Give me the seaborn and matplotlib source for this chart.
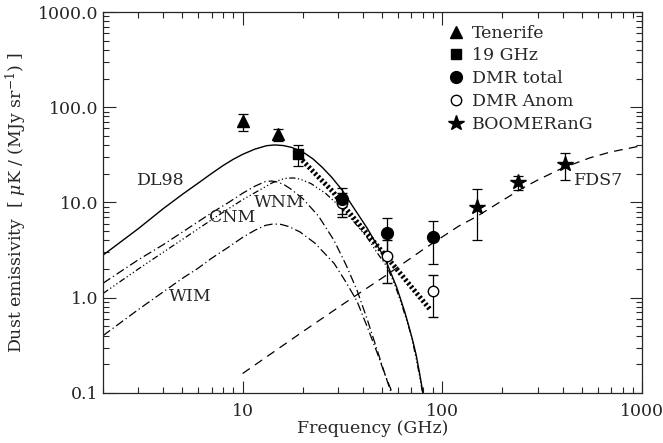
import numpy as np
import pandas as pd
import matplotlib
matplotlib.use("Agg")
import matplotlib.pyplot as plt
from matplotlib.lines import Line2D
from matplotlib.ticker import FixedLocator, FixedFormatter, NullFormatter
import seaborn as sns

# --- measured points (GHz, emissivity, error) ---
ten_f = [10.0, 15.0]
ten_v = [71.0, 52.0]
ten_e = [14.0, 7.7]

k19_f = [19.0]
k19_v = [32.0]
k19_e = [8.0]

dmr_f = [31.5, 53.0, 90.0]
dmr_tot = [10.8, 4.75, 4.37]
dmr_tot_e = [3.3, 2.2, 2.1]
dmr_anom = [9.9, 2.74, 1.19]
dmr_anom_e = [2.8, 1.3, 0.56]

boom_f = [150.0, 240.0, 410.0]
boom_v = [9.0, 16.3, 25.4]
boom_e = [5.0, 2.9, 8.0]

# --- model curves ---
dl98_f = [2, 3, 4, 5, 6, 7, 8, 9, 10, 11.5, 13.2, 14.5, 16, 17.5, 19, 20.5, 22.5,
          25, 28, 31.5, 36, 42, 47, 50, 53, 56, 59, 62, 65, 68, 71, 74, 77, 80]
dl98_v = [2.8, 5.3, 8.6, 12.2, 16.0, 20.2, 24.5, 28.5, 32.0, 36.3, 39.5, 40.2, 39.6,
          38.0, 35.6, 32.8, 28.7, 23.5, 18.3, 13.5, 8.8, 5.4, 3.6, 2.9, 2.25, 1.7,
          1.3, 0.95, 0.7, 0.5, 0.36, 0.25, 0.16, 0.1]

cnm_f = [2, 3, 4, 5, 6, 7, 8.5, 10, 11.5, 13, 14, 15, 16.2, 17.3, 20, 24, 28.7, 33,
         37.4, 42, 47, 52, 58]
cnm_v = [1.42, 2.5, 3.6, 4.9, 6.3, 7.8, 10.0, 12.5, 14.8, 16.6, 16.8, 16.4, 15.3,
         14.0, 11.0, 7.2, 4.0, 2.2, 1.2, 0.6, 0.29, 0.15, 0.085]

wnm_f = [2, 3, 4, 5, 6, 7, 8.5, 10, 12, 14, 15.5, 16.7, 18, 19.4, 22, 26, 30.8, 36,
         42, 47, 53, 58, 62, 66, 70, 74, 77, 80]
wnm_v = [1.11, 2.0, 3.0, 4.1, 5.3, 6.6, 8.6, 10.7, 13.3, 16.0, 17.4, 18.0, 18.1, 17.6,
         15.8, 12.5, 9.0, 6.3, 4.3, 3.0, 2.1, 1.35, 0.9, 0.6, 0.4, 0.23, 0.15, 0.095]

wim_f = [2, 3, 4, 5, 6, 7, 8.5, 10, 11.5, 13, 14.2, 15.5, 17, 19.4, 23, 28.7, 33,
         37.4, 42, 47, 52, 57]
wim_v = [0.40, 0.75, 1.15, 1.6, 2.05, 2.6, 3.4, 4.3, 5.1, 5.75, 5.95, 5.9, 5.6, 4.9,
         3.75, 2.3, 1.45, 0.92, 0.5, 0.27, 0.15, 0.085]

fds_f = [10, 20, 35, 53, 80, 120, 150, 200, 250, 300, 400, 550, 700, 1000]
fds_v = [0.16, 0.44, 0.98, 1.75, 3.2, 5.6, 7.2, 10.5, 14.0, 17.2, 23.0, 29.5, 34.0,
         39.5]

fit_f = [19.2, 24, 28.5, 31, 40, 55, 69, 87]
fit_v = [30.0, 18.5, 12.8, 10.0, 5.3, 2.4, 1.35, 0.75]

y_ticks = [0.1, 1.0, 10.0, 100.0, 1000.0]
y_labels = ["0.1", "1.0", "10.0", "100.0", "1000.0"]
x_ticks = [10, 100, 1000]
x_labels = ["10", "100", "1000"]

sns.set_style("ticks")
plt.rcParams["font.family"] = ["DejaVu Serif"]
plt.rcParams["mathtext.fontset"] = "dejavuserif"

fs = 12.5
fig = plt.figure(figsize=(6.63, 4.43), dpi=100)
ax = fig.add_axes([0.1554, 0.1129, 0.8129, 0.86])

curves = [
    (dl98_f, dl98_v, "-", 1.0),
    (cnm_f, cnm_v, (0, (7, 2.5, 1, 2.5)), 0.9),
    (wnm_f, wnm_v, (0, (5, 2, 1, 2, 1, 2, 1, 2)), 0.9),
    (wim_f, wim_v, (0, (7, 2.5, 1, 2.5)), 0.9),
    (fds_f, fds_v, (0, (7, 5)), 0.9),
]
for f, v, ls, lw in curves:
    df = pd.DataFrame({"f": f, "v": v})
    sns.lineplot(data=df, x="f", y="v", ax=ax, color="black", linestyle=ls,
                 linewidth=lw, sort=False, estimator=None)

df_fit = pd.DataFrame({"f": fit_f, "v": fit_v})
sns.lineplot(data=df_fit, x="f", y="v", ax=ax, color="black",
             linestyle=(0, (0.45, 0.45)), linewidth=3.6, sort=False, estimator=None)

eb = dict(ecolor="black", elinewidth=0.9, capsize=3.5, capthick=0.9, linestyle="none")
ax.errorbar(ten_f, ten_v, yerr=ten_e, fmt="^", color="black", ms=8, **eb)
ax.errorbar(k19_f, k19_v, yerr=k19_e, fmt="s", color="black", ms=7.5, **eb)
ax.errorbar(dmr_f, dmr_anom, yerr=dmr_anom_e, fmt="o", mfc="white", mec="black",
            mew=1.0, ms=7.5, **eb)
ax.errorbar(dmr_f, dmr_tot, yerr=dmr_tot_e, fmt="o", color="black", ms=8.5, **eb)
ax.errorbar(boom_f, boom_v, yerr=boom_e, fmt="*", color="black", ms=11.5, **eb)

ax.set_xscale("log")
ax.set_yscale("log")
ax.set_xlim(2, 1000)
ax.set_ylim(0.1, 1000)

ax.yaxis.set_major_locator(FixedLocator(y_ticks))
ax.yaxis.set_major_formatter(FixedFormatter(y_labels))
ax.xaxis.set_major_locator(FixedLocator(x_ticks))
ax.xaxis.set_major_formatter(FixedFormatter(x_labels))
ax.xaxis.set_minor_formatter(NullFormatter())
ax.yaxis.set_minor_formatter(NullFormatter())
ax.tick_params(which="both", direction="in", top=True, right=True, labelsize=fs,
               width=0.8)
ax.tick_params(which="major", length=9)
ax.tick_params(which="minor", length=4.5)
ax.tick_params(axis="x", pad=7)
for s in ax.spines.values():
    s.set_linewidth(0.9)

ax.set_xlabel("Frequency (GHz)", fontsize=fs, labelpad=0)
ax.set_ylabel(r"Dust emissivity  [ $\mu$K / (MJy sr$^{-1}$) ]", fontsize=fs,
              labelpad=6)

ax.text(3.9, 17.2, "DL98", fontsize=fs, ha="center", va="center")
ax.text(8.9, 6.9, "CNM", fontsize=fs, ha="center", va="center")
ax.text(15.2, 9.9, "WNM", fontsize=fs, ha="center", va="center")
ax.text(5.5, 1.02, "WIM", fontsize=fs, ha="center", va="center")
ax.text(606, 17.2, "FDS7", fontsize=fs, ha="center", va="center")

handles = [
    Line2D([], [], marker="^", color="black", ls="none", ms=8),
    Line2D([], [], marker="s", color="black", ls="none", ms=7.5),
    Line2D([], [], marker="o", color="black", ls="none", ms=8.5),
    Line2D([], [], marker="o", mfc="white", mec="black", ls="none", ms=7.5),
    Line2D([], [], marker="*", color="black", ls="none", ms=11.5),
]
names = ["Tenerife", "19 GHz", "DMR total", "DMR Anom", "BOOMERanG"]
ax.legend(handles, names, loc="upper left", bbox_to_anchor=(0.625, 0.985),
          frameon=False, fontsize=fs, handletextpad=0.35, labelspacing=0.33,
          borderaxespad=0, handlelength=1.1)

fig.savefig("out.png", dpi=100)
